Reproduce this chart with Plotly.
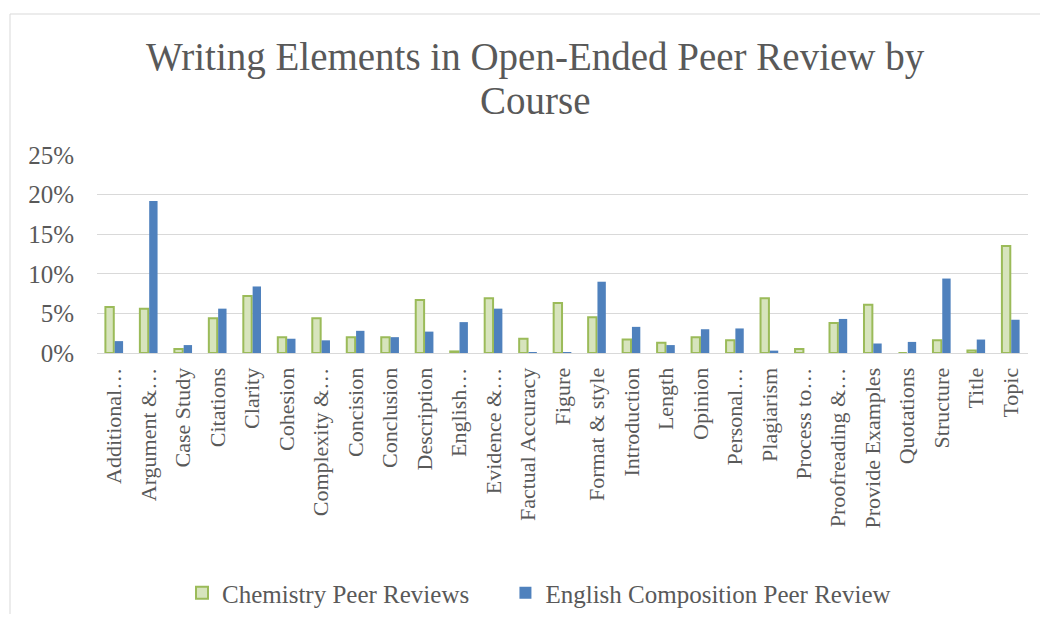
import plotly.graph_objects as go

categories = ["Additional…", "Argument &…", "Case Study", "Citations", "Clarity", "Cohesion",
              "Complexity &…", "Concision", "Conclusion", "Description", "English…", "Evidence &…",
              "Factual Accuracy", "Figure", "Format & style", "Introduction", "Length", "Opinion",
              "Personal…", "Plagiarism", "Process to…", "Proofreading &…", "Provide Examples",
              "Quotations", "Structure", "Title", "Topic"]
chemistry = [5.8, 5.6, 0.5, 4.4, 7.2, 2.0, 4.4, 2.0, 2.0, 6.7, 0.2, 6.9, 1.8, 6.3, 4.5, 1.7,
             1.3, 2.0, 1.6, 6.9, 0.5, 3.8, 6.1, 0.0, 1.6, 0.3, 13.5]
english = [1.5, 19.2, 1.0, 5.6, 8.4, 1.8, 1.6, 2.8, 2.0, 2.7, 3.9, 5.6, 0.1, 0.1, 9.0, 3.3,
           1.0, 3.0, 3.1, 0.3, 0.0, 4.3, 1.2, 1.4, 9.4, 1.7, 4.2]
yticks = [0, 5, 10, 15, 20, 25]
ytext = ["0%", "5%", "10%", "15%", "20%", "25%"]
title_lines = ["Writing Elements in Open-Ended Peer Review by", "Course"]
series_names = ["Chemistry Peer Reviews", "English Composition Peer Review"]

FONT = "Liberation Serif, DejaVu Serif, serif"
TXT = "#595959"

# page body has an 8px margin; work in figure pixels = reference pixels - 8
OFF = 8
W, H = 1032, 606
L, T = 97 - OFF, 155 - OFF
PR, PB = 1028 - OFF, 353 - OFF
R, B = W - PR, H - PB
pw, ph = PR - L, PB - T


def px(xr):
    return (xr - OFF - L) / pw


def py(yr):
    return (PB - (yr - OFF)) / ph


fig = go.Figure()
fig.add_trace(go.Bar(x=categories, y=chemistry, name=series_names[0] + "\u00a0" * 5,
                     marker=dict(color="#D7E4BD", line=dict(color="#9BBB59", width=2))))
fig.add_trace(go.Bar(x=categories, y=english, name=series_names[1],
                     marker=dict(color="#4F81BD", line=dict(color="#4F81BD", width=0))))

annotations = []
for txt, base in zip(title_lines, [70, 113]):
    annotations.append(dict(text=txt, xref="paper", yref="paper", x=px(535), y=py(base - 13),
                            xanchor="center", yanchor="middle", showarrow=False,
                            font=dict(family=FONT, size=39, color=TXT)))

fig.update_layout(
    width=W, height=H,
    margin=dict(l=L, r=R, t=T, b=B, autoexpand=False),
    paper_bgcolor="white", plot_bgcolor="white",
    font=dict(family=FONT, color=TXT, size=22),
    barmode="group", bargap=0.46, bargroupgap=0.1,
    showlegend=True,
    annotations=annotations,
    legend=dict(orientation="h", x=px(182), xanchor="left", y=py(593), yanchor="middle",
                font=dict(family=FONT, size=25, color=TXT), itemwidth=30),
    shapes=[
        dict(type="line", xref="paper", yref="paper", x0=px(10), x1=px(1060), y0=py(14), y1=py(14),
             line=dict(color="#D9D9D9", width=1)),
        dict(type="line", xref="paper", yref="paper", x0=px(10), x1=px(10), y0=py(14), y1=py(640),
             line=dict(color="#D9D9D9", width=1)),
    ],
)
fig.update_xaxes(tickangle=-90, showgrid=False, showline=True, linecolor="#D9D9D9", linewidth=1,
                 ticks="", ticklabelstandoff=5, tickfont=dict(family=FONT, size=22, color=TXT))
fig.update_yaxes(range=[0, 25], tickvals=yticks, ticktext=ytext, showgrid=True,
                 gridcolor="#D9D9D9", gridwidth=1, zeroline=False, showline=False,
                 ticklabelstandoff=22, tickfont=dict(family=FONT, size=25, color=TXT), ticks="")

fig.write_html("out.html")
